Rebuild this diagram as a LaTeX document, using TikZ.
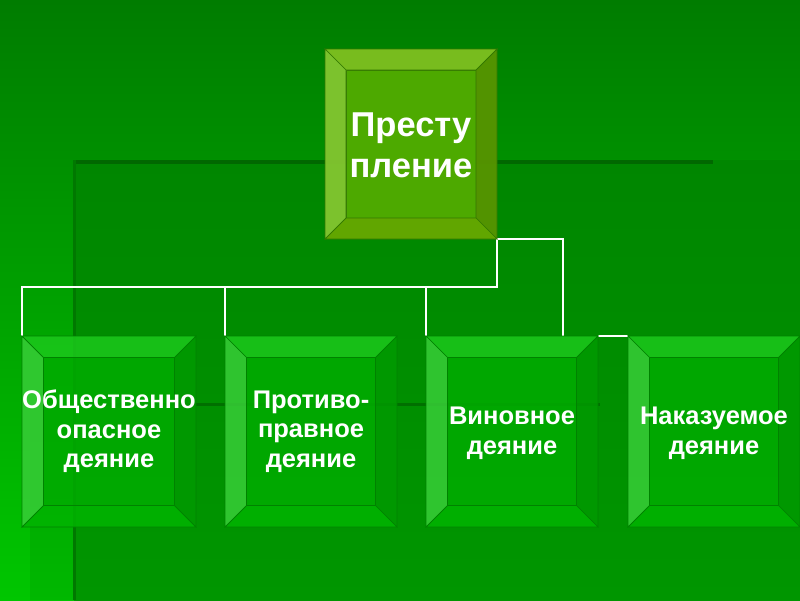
\documentclass[tikz,border=0pt]{standalone}
\usepackage{fontspec}
\setmainfont{Liberation Sans}
\usetikzlibrary{calc}
\definecolor{bgA}{RGB}{0,124,0}
\definecolor{bgB}{RGB}{0,198,0}
\definecolor{inA}{RGB}{0,134,0}
\definecolor{inB}{RGB}{0,150,0}
\definecolor{shadowline}{RGB}{0,104,0}
\definecolor{edgeline}{RGB}{0,120,0}
\definecolor{midline}{RGB}{0,112,0}
% top box
\definecolor{tFace}{RGB}{82,172,0}
\definecolor{tTop}{RGB}{128,192,32}
\definecolor{tLeft}{RGB}{132,198,48}
\definecolor{tRight}{RGB}{88,148,0}
\definecolor{tBot}{RGB}{104,168,0}
\definecolor{tEdge}{RGB}{50,120,0}
% lower boxes
\definecolor{bFace}{RGB}{0,172,0}
\definecolor{bTop}{RGB}{28,200,28}
\definecolor{bLeft}{RGB}{56,206,56}
\definecolor{bRight}{RGB}{0,154,0}
\definecolor{bBot}{RGB}{0,180,0}
\definecolor{bEdge}{RGB}{0,130,0}
% #1 node, #2 bevel, #3 face, #4 top, #5 left, #6 right, #7 bottom, #8 edge, #9 opacity
\newcommand\bevelbox[9]{%
  \coordinate (#1-a) at (#1.north west);
  \coordinate (#1-b) at (#1.north east);
  \coordinate (#1-c) at (#1.south east);
  \coordinate (#1-d) at (#1.south west);
  \coordinate (#1-ia) at ($(#1-a)+(#2,#2)$);
  \coordinate (#1-ib) at ($(#1-b)+(-#2,#2)$);
  \coordinate (#1-ic) at ($(#1-c)+(-#2,-#2)$);
  \coordinate (#1-id) at ($(#1-d)+(#2,-#2)$);
  \begin{scope}[fill opacity=#9, draw=#8, line width=0.7pt, line join=miter]
    \filldraw[fill=#3] (#1-ia) -- (#1-ib) -- (#1-ic) -- (#1-id) -- cycle;
    \filldraw[fill=#4] (#1-a) -- (#1-b) -- (#1-ib) -- (#1-ia) -- cycle;
    \filldraw[fill=#5] (#1-a) -- (#1-ia) -- (#1-id) -- (#1-d) -- cycle;
    \filldraw[fill=#6] (#1-b) -- (#1-c) -- (#1-ic) -- (#1-ib) -- cycle;
    \filldraw[fill=#7] (#1-d) -- (#1-id) -- (#1-ic) -- (#1-c) -- cycle;
  \end{scope}}
\tikzset{
  boxshape/.style={rectangle, inner sep=0pt, outer sep=0pt, minimum width=172pt, minimum height=191pt},
  toplabel/.style={text=white, align=center, font=\fontsize{34.5}{41}\selectfont\bfseries},
  lowlabel/.style={text=white, align=center, font=\fontsize{25.5}{29.5}\selectfont\bfseries},
  conn/.style={draw=white, line width=1.1pt}
}
\begin{document}
\begin{tikzpicture}[x=1pt,y=-1pt]
\useasboundingbox (0,0) rectangle (800,600);
% background
\shade[top color=bgA, bottom color=bgB] (0,0) rectangle (800,600);
\shade[top color=inA, bottom color=inB] (74,160) rectangle (800,600);
\fill[black, fill opacity=0.07] (30,400) rectangle (74,600);
\fill[shadowline] (74,159.5) rectangle (713,163.5);
\fill[edgeline] (72.5,160) rectangle (76,600);
\fill[midline] (74,402.5) rectangle (600,405.5);
% box nodes
\node[boxshape, minimum width=172pt, minimum height=190pt] (top) at (411,144) {};
\node[boxshape, minimum width=174pt] (b1) at (109,431.5) {};
\node[boxshape] (b2) at (311,431.5) {};
\node[boxshape] (b3) at (512,431.5) {};
\node[boxshape] (b4) at (714,431.5) {};
% connectors
\draw[conn] (top.south east) |- ($(b1.north west)+(0,-49)$) -- (b1.north west);
\draw[conn] ($(b2.north west)+(0,-49)$) -- (b2.north west);
\draw[conn] ($(b3.north west)+(0,-49)$) -- (b3.north west);
\draw[conn] (top.south east) -| ($(b3.north)+(51,0)$);
\draw[conn] (b3.north east) -- (b4.north west);
% bevelled boxes
\bevelbox{top}{21}{tFace}{tTop}{tLeft}{tRight}{tBot}{tEdge}{0.94}
\bevelbox{b1}{21.5}{bFace}{bTop}{bLeft}{bRight}{bBot}{bEdge}{0.85}
\bevelbox{b2}{21.5}{bFace}{bTop}{bLeft}{bRight}{bBot}{bEdge}{0.85}
\bevelbox{b3}{21.5}{bFace}{bTop}{bLeft}{bRight}{bBot}{bEdge}{0.85}
\bevelbox{b4}{21.5}{bFace}{bTop}{bLeft}{bRight}{bBot}{bEdge}{0.85}
% labels
\node[toplabel] (t0) at ($(top.center)+(0,1)$) {Престу\\пление};
\node[lowlabel] (t1) at ($(b1.center)+(0,0)$) {Общественно\\опасное\\деяние};
\node[lowlabel] (t2) at ($(b2.center)+(0,0)$) {Противо-\\правное\\деяние};
\node[lowlabel] (t3) at ($(b3.center)+(0,2)$) {Виновное\\деяние};
\node[lowlabel] (t4) at ($(b4.center)+(0,2)$) {Наказуемое\\деяние};
\end{tikzpicture}
\end{document}
